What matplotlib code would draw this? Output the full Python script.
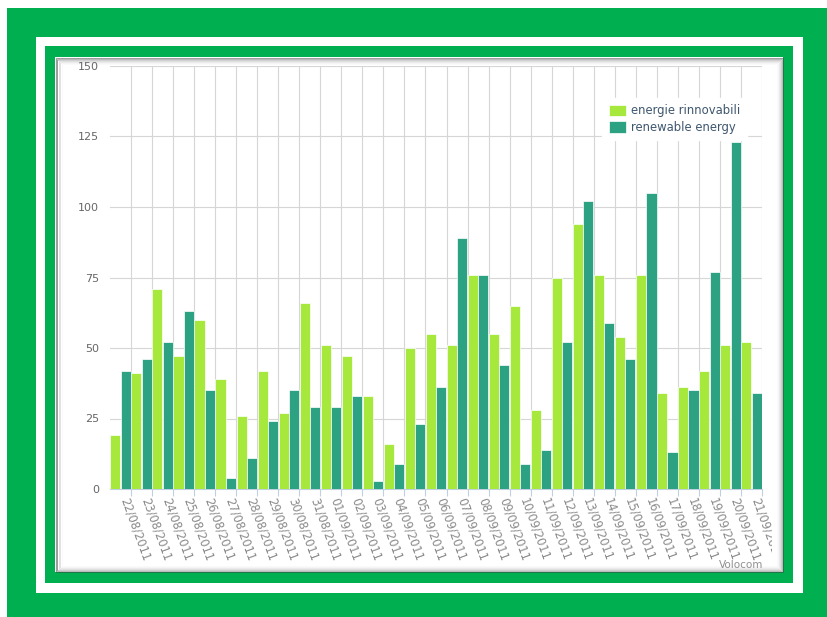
import matplotlib
matplotlib.use("Agg")
import matplotlib.pyplot as plt
import numpy as np
from matplotlib.patches import Rectangle
from matplotlib.transforms import ScaledTranslation, Bbox, TransformedBbox

dates = ["22/08/2011", "23/08/2011", "24/08/2011", "25/08/2011", "26/08/2011",
         "27/08/2011", "28/08/2011", "29/08/2011", "30/08/2011", "31/08/2011",
         "01/09/2011", "02/09/2011", "03/09/2011", "04/09/2011", "05/09/2011",
         "06/09/2011", "07/09/2011", "08/09/2011", "09/09/2011", "10/09/2011",
         "11/09/2011", "12/09/2011", "13/09/2011", "14/09/2011", "15/09/2011",
         "16/09/2011", "17/09/2011", "18/09/2011", "19/09/2011", "20/09/2011",
         "21/09/2011"]
energie_rinnovabili = [19, 41, 71, 47, 60, 39, 26, 42, 27, 66,
                       51, 47, 33, 16, 50, 55, 51, 76, 55, 65,
                       28, 75, 94, 76, 54, 76, 34, 36, 42, 51, 52]
renewable_energy = [42, 46, 52, 63, 35, 4, 11, 24, 35, 29,
                    29, 33, 3, 9, 23, 36, 89, 76, 44, 9,
                    14, 52, 102, 59, 46, 105, 13, 35, 77, 123, 34]
y_ticks = [0, 25, 50, 75, 100, 125, 150]

W, H = 827, 617
fig = plt.figure(figsize=(W / 100, H / 100), dpi=100)
fig.patch.set_facecolor("white")

def rect(x0, y0, x1, y1, **kw):
    r = Rectangle((x0 / W, 1 - y1 / H), (x1 - x0) / W, (y1 - y0) / H,
                  transform=fig.transFigure, **kw)
    fig.add_artist(r)
    return r

GREEN = "#00AF50"
rect(7, 8, 830, 620, facecolor=GREEN, edgecolor="none", zorder=-20)
rect(36, 37, 803, 593, facecolor="white", edgecolor="none", zorder=-19)
rect(45, 46, 793, 583, facecolor=GREEN, edgecolor="none", zorder=-18)
rect(55, 57, 783, 572, facecolor="white", edgecolor="none", zorder=-17)
# panel inner shadow
shades = [0.5, 0.36, 0.25, 0.16, 0.1, 0.05, 0.025]
for k, a in enumerate(shades):
    rect(55 + k + 0.5, 57 + k + 0.5, 783 - k - 0.5, 572 - k - 0.5,
         facecolor="none", edgecolor=(0.25, 0.25, 0.25, a), linewidth=0.72, zorder=-16)

ax = fig.add_axes([110 / W, 1 - 489 / H, 652 / W, 423 / H])
ax.set_facecolor("none")

x = np.arange(len(dates))
c_light = "#A6E83C"
c_teal = "#2CA283"
bw = 0.48
ax.bar(x - 0.245, energie_rinnovabili, width=bw, color=c_light, edgecolor="white",
       linewidth=0.5, label="energie rinnovabili", zorder=3)
ax.bar(x + 0.245, renewable_energy, width=bw, color=c_teal, edgecolor="white",
       linewidth=0.5, label="renewable energy", zorder=3)

ax.set_xlim(-0.5, len(dates) - 0.5)
ax.set_ylim(0, 150)
ax.set_yticks(y_ticks)
ax.set_yticklabels([str(v) for v in y_ticks], fontsize=8, color="#666666")
ax.tick_params(axis="y", length=0, pad=8)

ax.set_xticks(x)
ax.set_xticks(x + 0.5, minor=True)
ax.set_xticklabels(dates, fontsize=8.3, color="#8a8a8a")
ax.tick_params(axis="x", which="major", length=0, pad=7)
ax.tick_params(axis="x", which="minor", length=5, color="#C0D0E0", width=0.8)

clipbox = TransformedBbox(Bbox([[0, 0], [772 / W, 1]]), fig.transFigure)
off = ScaledTranslation(0.035, 0, fig.dpi_scale_trans)
for lab in ax.get_xticklabels():
    lab.set_rotation(-70)
    lab.set_ha("left")
    lab.set_va("center")
    lab.set_rotation_mode("anchor")
    lab.set_transform(lab.get_transform() + off)
    lab.set_clip_on(True)
    lab.set_clip_box(clipbox)

ax.grid(which="major", axis="y", color="#D6D6D6", linewidth=0.8, zorder=0)
ax.grid(which="minor", axis="x", color="#D6D6D6", linewidth=0.8, zorder=0)
ax.grid(which="major", axis="x", visible=False)
for s in ["top", "right", "left"]:
    ax.spines[s].set_visible(False)
ax.spines["bottom"].set_color("#C0D0E0")
ax.spines["bottom"].set_linewidth(0.8)
ax.set_axisbelow(True)

leg = ax.legend(loc="upper right", bbox_to_anchor=((747 - 110) / 652, 1 - (98 - 66) / 423),
                borderaxespad=0, frameon=True, fancybox=False, framealpha=1,
                edgecolor="white", facecolor="white", fontsize=8.4,
                handlelength=1.5, handleheight=1.15, handletextpad=0.45,
                labelspacing=0.3, borderpad=0.55)
for t in leg.get_texts():
    t.set_color("#3E576F")

fig.text(763 / W, 1 - 565 / H, "Volocom", ha="right", va="center",
         fontsize=7.5, color="#909090")

fig.savefig("out.png", dpi=100)
